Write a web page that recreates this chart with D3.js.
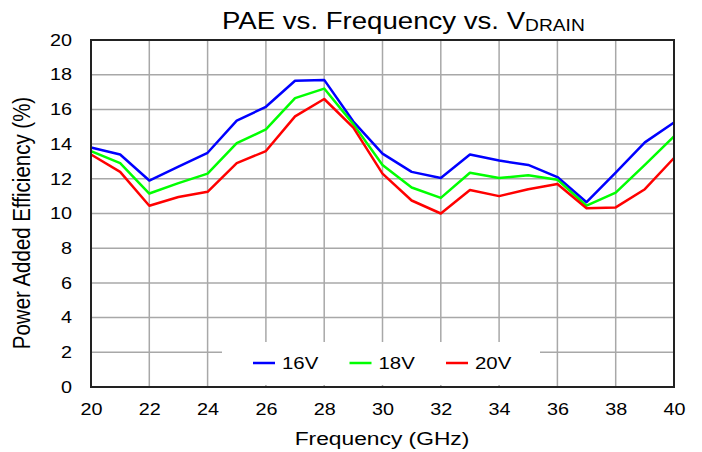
<!DOCTYPE html>
<html><head><meta charset="utf-8">
<script src="https://cdn.jsdelivr.net/npm/d3@7"></script>
<style>
body{margin:0;background:#fff;}
svg{display:block;font-family:"Liberation Sans",Arial,sans-serif;}
</style></head>
<body><svg id="chart" width="702" height="452"></svg>
<script>
const freqs = [20,21,22,23,24,25,26,27,28,29,30,31,32,33,34,35,36,37,38,39,40];
const pae16 = [13.8,13.4,11.9,12.7,13.5,15.35,16.15,17.65,17.7,15.3,13.45,12.4,12.05,13.4,13.05,12.8,12.1,10.65,12.35,14.1,15.25];
const pae18 = [13.6,12.9,11.15,11.75,12.3,14.05,14.85,16.65,17.2,15.15,12.8,11.5,10.9,12.35,12.05,12.2,11.95,10.45,11.2,12.8,14.45];
const pae20 = [13.4,12.4,10.45,10.95,11.25,12.9,13.6,15.6,16.6,14.95,12.3,10.75,10.0,11.35,11.0,11.4,11.7,10.3,10.35,11.4,13.2];
const seriesNames = ["16V","18V","20V"];
const seriesColors = ["#0000ff","#00ff00","#ff0000"];
const xTicks = [20,22,24,26,28,30,32,34,36,38,40];
const yTicks = [0,2,4,6,8,10,12,14,16,18,20];

const SX = 1.2; // horizontal stretch of glyphs seen in the reference
const svg = d3.select("#chart");
const L=91, R=674, T=40, B=387;
const x = d3.scaleLinear().domain([20,40]).range([L,R]);
const y = d3.scaleLinear().domain([0,20]).range([B,T]);

// grid
svg.append("g").selectAll("line").data(yTicks.slice(1,-1)).join("line")
  .attr("x1",L).attr("x2",R).attr("y1",d=>y(d)).attr("y2",d=>y(d))
  .attr("stroke","#a8a8a8").attr("stroke-width",1.5);
svg.append("g").selectAll("line").data(xTicks.slice(1,-1)).join("line")
  .attr("y1",T).attr("y2",B).attr("x1",d=>x(d)).attr("x2",d=>x(d))
  .attr("stroke","#a8a8a8").attr("stroke-width",1.5);

// series
const data = [pae16,pae18,pae20];
const line = d3.line().x((d,i)=>x(freqs[i])).y(d=>y(d));
data.forEach((s,k)=>{
  svg.append("path").datum(s).attr("d",line).attr("fill","none")
    .attr("stroke",seriesColors[k]).attr("stroke-width",2.5).attr("stroke-linejoin","round");
});

// legend box
svg.append("rect").attr("x",222).attr("y",342).attr("width",318).attr("height",43).attr("fill","#fff");
const lg = svg.append("g");
seriesNames.forEach((n,k)=>{
  const lx = 253 + k*96.5;
  lg.append("line").attr("x1",lx).attr("x2",lx+22).attr("y1",363).attr("y2",363)
    .attr("stroke",seriesColors[k]).attr("stroke-width",2.5);
  lg.append("text").attr("transform",`translate(${lx+29},369) scale(${SX},1)`)
    .attr("font-size",17).text(n);
});

// frame
svg.append("rect").attr("x",L).attr("y",T).attr("width",R-L).attr("height",B-T)
  .attr("fill","none").attr("stroke","#222").attr("stroke-width",2);

// axes
const xa = svg.append("g").attr("transform",`translate(0,${B})`)
  .call(d3.axisBottom(x).tickValues(xTicks).tickSize(0).tickPadding(16));
const ya = svg.append("g").attr("transform",`translate(${L},0)`)
  .call(d3.axisLeft(y).tickValues(yTicks).tickSize(0).tickPadding(19/SX));
[xa,ya].forEach(a=>{a.select(".domain").remove();
  a.selectAll("text").attr("font-size",16.5).attr("fill","#000")
   .attr("font-family","Liberation Sans, Arial, sans-serif")
   .attr("transform",`scale(${SX},1)`);});

// titles
const title = svg.append("text").attr("transform",`translate(222,29) scale(${SX},1)`)
  .attr("text-anchor","start").attr("font-size",23);
title.append("tspan").text("PAE vs. Frequency vs. V");
title.append("tspan").attr("font-size",16).attr("dy",1.5).text("DRAIN");

svg.append("text").attr("transform",`translate(382,445) scale(${SX},1)`).attr("text-anchor","middle")
  .attr("font-size",19).text("Frequency (GHz)");
svg.append("text").attr("transform",`translate(30,223) rotate(-90) scale(1,${SX})`).attr("text-anchor","middle")
  .attr("font-size",20.5).text("Power Added Efficiency (%)");
</script></body></html>
